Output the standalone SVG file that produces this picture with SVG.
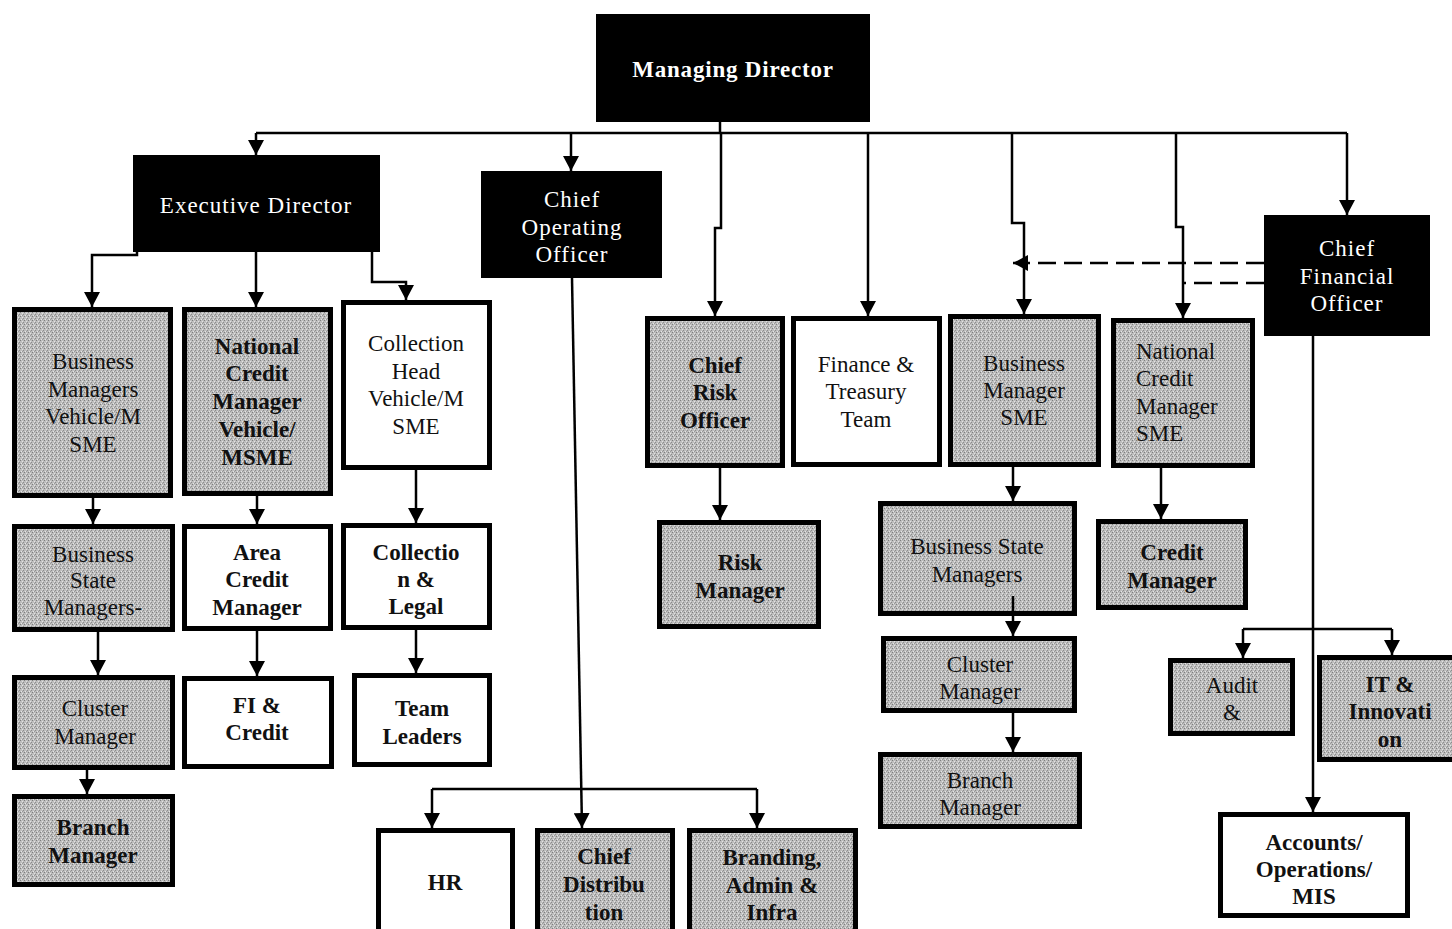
<svg xmlns="http://www.w3.org/2000/svg" width="1452" height="929" viewBox="0 0 1452 929">
<style>
text{font-family:"Liberation Serif","Times New Roman",serif;font-size:23px;fill:#111;text-anchor:middle}
.b{font-weight:bold}
.w{fill:#fff}
.dk{fill:#000;stroke:none}
.gr{fill:url(#dots);stroke:#000;stroke-width:5}
.wh{fill:#fff;stroke:#000;stroke-width:5}
.c{fill:none;stroke:#000;stroke-width:2.5}
.cd{fill:none;stroke:#000;stroke-width:2.5;stroke-dasharray:18 8}
</style>
<defs>
<pattern id="dots" width="4" height="4" patternUnits="userSpaceOnUse">
<rect width="4" height="4" fill="#bdbdbd"/>
<rect x="0" y="0" width="1" height="1" fill="#7e7e7e"/>
<rect x="2" y="1" width="1" height="1" fill="#e2e2e2"/>
<rect x="3" y="2" width="1" height="1" fill="#8c8c8c"/>
<rect x="1" y="3" width="1" height="1" fill="#e6e6e6"/>
<rect x="2" y="3" width="1" height="1" fill="#9a9a9a"/>
</pattern>
<marker id="ar" markerUnits="userSpaceOnUse" markerWidth="16" markerHeight="16" refX="15" refY="8" orient="auto">
<path d="M0,0 L15,8 L0,16 z" fill="#000"/>
</marker>
</defs>

<g id="md"><rect class="dk" x="596" y="14" width="274" height="108"/><text class="w b" x="733" y="77" font-size="21" letter-spacing="0.8">Managing Director</text></g>
<g id="ed"><rect class="dk" x="133" y="155" width="247" height="97"/><text class="w" x="256" y="213" font-size="21" letter-spacing="1">Executive Director</text></g>
<g id="coo"><rect class="dk" x="481" y="171" width="181" height="107"/><text class="w" font-size="21" letter-spacing="1"><tspan x="572" y="207">Chief</tspan><tspan x="572" y="235">Operating</tspan><tspan x="572" y="262">Officer</tspan></text></g>
<g id="cfo"><rect class="dk" x="1264" y="215" width="166" height="121"/><text class="w" font-size="21" letter-spacing="1"><tspan x="1347" y="256">Chief</tspan><tspan x="1347" y="284">Financial</tspan><tspan x="1347" y="311">Officer</tspan></text></g>

<g id="bmv"><rect class="gr" x="14.5" y="309.5" width="156" height="186"/><text><tspan x="93" y="369">Business</tspan><tspan x="93" y="397">Managers</tspan><tspan x="93" y="424">Vehicle/M</tspan><tspan x="93" y="452">SME</tspan></text></g>
<g id="ncmv"><rect class="gr" x="184.5" y="309.5" width="146" height="184"/><text class="b"><tspan x="257" y="354">National</tspan><tspan x="257" y="381">Credit</tspan><tspan x="257" y="409">Manager</tspan><tspan x="257" y="437">Vehicle/</tspan><tspan x="257" y="465">MSME</tspan></text></g>
<g id="chv"><rect class="wh" x="343.5" y="302.5" width="146" height="165"/><text><tspan x="416" y="351">Collection</tspan><tspan x="416" y="379">Head</tspan><tspan x="416" y="406">Vehicle/M</tspan><tspan x="416" y="434">SME</tspan></text></g>

<g id="bsm"><rect class="gr" x="14.5" y="526.5" width="158" height="103"/><text><tspan x="93" y="562">Business</tspan><tspan x="93" y="588">State</tspan><tspan x="93" y="615">Managers-</tspan></text></g>
<g id="acm"><rect class="wh" x="184.5" y="526.5" width="146" height="102"/><text class="b"><tspan x="257" y="560">Area</tspan><tspan x="257" y="587">Credit</tspan><tspan x="257" y="615">Manager</tspan></text></g>
<g id="cl"><rect class="wh" x="343.5" y="525.5" width="146" height="102"/><text class="b"><tspan x="416" y="560">Collectio</tspan><tspan x="416" y="587">n &amp;</tspan><tspan x="416" y="614">Legal</tspan></text></g>

<g id="cm"><rect class="gr" x="14.5" y="677.5" width="158" height="90"/><text><tspan x="95" y="716">Cluster</tspan><tspan x="95" y="744">Manager</tspan></text></g>
<g id="fi"><rect class="wh" x="184.5" y="678.5" width="147" height="88"/><text class="b"><tspan x="257" y="713">FI &amp;</tspan><tspan x="257" y="740">Credit</tspan></text></g>
<g id="tl"><rect class="wh" x="354.5" y="675.5" width="135" height="89"/><text class="b"><tspan x="422" y="716">Team</tspan><tspan x="422" y="744">Leaders</tspan></text></g>
<g id="brm"><rect class="gr" x="14.5" y="796.5" width="158" height="88"/><text class="b"><tspan x="93" y="835">Branch</tspan><tspan x="93" y="863">Manager</tspan></text></g>

<g id="hr"><rect class="wh" x="378.5" y="830.5" width="134" height="110"/><text class="b" x="445" y="890">HR</text></g>
<g id="cd"><rect class="gr" x="537.5" y="830.5" width="135" height="110"/><text class="b"><tspan x="604" y="864">Chief</tspan><tspan x="604" y="892">Distribu</tspan><tspan x="604" y="920">tion</tspan></text></g>
<g id="bai"><rect class="gr" x="689.5" y="830.5" width="166" height="110"/><text class="b"><tspan x="772" y="865">Branding,</tspan><tspan x="772" y="893">Admin &amp;</tspan><tspan x="772" y="920">Infra</tspan></text></g>

<g id="cro"><rect class="gr" x="647.5" y="318.5" width="135" height="147"/><text class="b"><tspan x="715" y="373">Chief</tspan><tspan x="715" y="400">Risk</tspan><tspan x="715" y="428">Officer</tspan></text></g>
<g id="ftt"><rect class="wh" x="793.5" y="318.5" width="146" height="146"/><text><tspan x="866" y="372">Finance &amp;</tspan><tspan x="866" y="399">Treasury</tspan><tspan x="866" y="427">Team</tspan></text></g>
<g id="bmsme"><rect class="gr" x="950.5" y="316.5" width="148" height="148"/><text><tspan x="1024" y="371">Business</tspan><tspan x="1024" y="398">Manager</tspan><tspan x="1024" y="425">SME</tspan></text></g>
<g id="ncmsme"><rect class="gr" x="1113.5" y="320.5" width="139" height="145"/><text style="text-anchor:start"><tspan x="1136" y="359">National</tspan><tspan x="1136" y="386">Credit</tspan><tspan x="1136" y="414">Manager</tspan><tspan x="1136" y="441">SME</tspan></text></g>

<g id="rm"><rect class="gr" x="659.5" y="522.5" width="159" height="104"/><text class="b"><tspan x="740" y="570">Risk</tspan><tspan x="740" y="598">Manager</tspan></text></g>
<g id="bsm2"><rect class="gr" x="880.5" y="503.5" width="194" height="110"/><text><tspan x="977" y="554">Business State</tspan><tspan x="977" y="582">Managers</tspan></text></g>
<g id="cm2"><rect class="gr" x="883.5" y="638.5" width="191" height="72"/><text><tspan x="980" y="672">Cluster</tspan><tspan x="980" y="699">Manager</tspan></text></g>
<g id="brm2"><rect class="gr" x="880.5" y="754.5" width="199" height="72"/><text><tspan x="980" y="788">Branch</tspan><tspan x="980" y="815">Manager</tspan></text></g>
<g id="crm"><rect class="gr" x="1098.5" y="521.5" width="147" height="86"/><text class="b"><tspan x="1172" y="560">Credit</tspan><tspan x="1172" y="588">Manager</tspan></text></g>
<g id="aud"><rect class="gr" x="1170.5" y="660.5" width="122" height="73"/><text><tspan x="1232" y="693">Audit</tspan><tspan x="1232" y="720">&amp;</tspan></text></g>
<g id="it"><rect class="gr" x="1319.5" y="657.5" width="140" height="102"/><text class="b"><tspan x="1390" y="692">IT &amp;</tspan><tspan x="1390" y="719">Innovati</tspan><tspan x="1390" y="747">on</tspan></text></g>
<g id="acc"><rect class="wh" x="1220.5" y="814.5" width="187" height="101"/><text class="b"><tspan x="1314" y="850">Accounts/</tspan><tspan x="1314" y="877">Operations/</tspan><tspan x="1314" y="904">MIS</tspan></text></g>

<g id="connectors">
<path class="c" d="M720,122 V133 M256,133 H1347"/>
<path class="c" d="M256,133 V155" marker-end="url(#ar)"/>
<path class="c" d="M571,133 V171" marker-end="url(#ar)"/>
<path class="c" d="M721,133 V228 H715 V316" marker-end="url(#ar)"/>
<path class="c" d="M868,133 V316" marker-end="url(#ar)"/>
<path class="c" d="M1012,133 V223 H1024 V314" marker-end="url(#ar)"/>
<path class="c" d="M1176,133 V227 H1183 V318" marker-end="url(#ar)"/>
<path class="c" d="M1347,133 V215" marker-end="url(#ar)"/>
<path class="cd" d="M1264,263 H1013" marker-end="url(#ar)"/>
<path class="cd" d="M1264,283 H1183"/>
<path class="c" d="M137,252 V255 H92 V307" marker-end="url(#ar)"/>
<path class="c" d="M256,252 V307" marker-end="url(#ar)"/>
<path class="c" d="M372,252 V282 H406 V300" marker-end="url(#ar)"/>
<path class="c" d="M93,498 V524" marker-end="url(#ar)"/>
<path class="c" d="M257,496 V524" marker-end="url(#ar)"/>
<path class="c" d="M416,470 V523" marker-end="url(#ar)"/>
<path class="c" d="M98,632 V675" marker-end="url(#ar)"/>
<path class="c" d="M257,631 V676" marker-end="url(#ar)"/>
<path class="c" d="M416,630 V673" marker-end="url(#ar)"/>
<path class="c" d="M87,770 V794" marker-end="url(#ar)"/>
<path class="c" d="M572,278 L582,828" marker-end="url(#ar)"/>
<path class="c" d="M432,789 H757"/>
<path class="c" d="M432,789 V828" marker-end="url(#ar)"/>
<path class="c" d="M757,789 V828" marker-end="url(#ar)"/>
<path class="c" d="M720,468 V520" marker-end="url(#ar)"/>
<path class="c" d="M1013,467 V501" marker-end="url(#ar)"/>
<path class="c" d="M1013,596 V636" marker-end="url(#ar)"/>
<path class="c" d="M1013,713 V752" marker-end="url(#ar)"/>
<path class="c" d="M1161,468 V519" stroke-width="4" marker-end="url(#ar)"/>
<path class="c" d="M1313,336 V812" marker-end="url(#ar)"/>
<path class="c" d="M1243,629 H1392"/>
<path class="c" d="M1243,629 V658" marker-end="url(#ar)"/>
<path class="c" d="M1392,629 V655" marker-end="url(#ar)"/>
</g>
</svg>
